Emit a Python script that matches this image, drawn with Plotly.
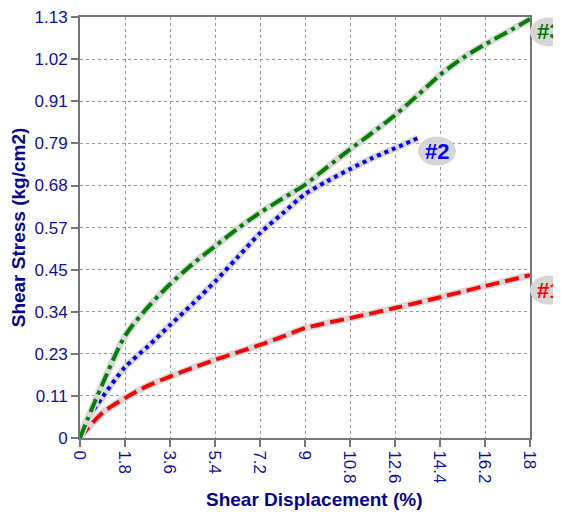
import plotly.graph_objects as go

# shear displacement (%) / shear stress (kg/cm2) for each specimen
x1 = [0, 0.3, 0.9, 1.8, 2.7, 3.6, 4.5, 5.4, 6.3, 7.2, 8.1, 9.0, 10.8, 12.6, 14.4, 16.2, 18.0]
y1 = [0, 0.025, 0.068, 0.107, 0.14, 0.165, 0.188, 0.21, 0.23, 0.25, 0.272, 0.295, 0.322, 0.349, 0.378, 0.408, 0.437]

x2 = [0, 0.3, 0.9, 1.8, 2.7, 3.6, 4.5, 5.4, 6.3, 7.2, 8.1, 9.0, 9.9, 10.8, 11.7, 12.6, 13.5]
y2 = [0, 0.05, 0.11, 0.19, 0.245, 0.303, 0.36, 0.42, 0.485, 0.55, 0.603, 0.655, 0.69, 0.722, 0.752, 0.778, 0.805]

x3 = [0, 0.3, 0.9, 1.8, 2.7, 3.6, 4.5, 5.4, 6.3, 7.2, 8.1, 9.0, 9.9, 10.8, 11.7, 12.6, 13.5, 14.4, 15.3, 16.2, 17.1, 18.0]
y3 = [0, 0.05, 0.145, 0.274, 0.35, 0.413, 0.467, 0.515, 0.562, 0.605, 0.643, 0.68, 0.728, 0.775, 0.82, 0.867, 0.92, 0.975, 1.02, 1.057, 1.09, 1.125]

labels = ["#1", "#2", "#3"]
label_x = [18.76, 14.28, 18.76]
label_y = [0.397, 0.77, 1.09]

x_ticks = [0, 1.8, 3.6, 5.4, 7.2, 9, 10.8, 12.6, 14.4, 16.2, 18]
x_ticktext = ["0", "1.8", "3.6", "5.4", "7.2", "9", "10.8", "12.6", "14.4", "16.2", "18"]
y_ticks = [0, 0.113, 0.226, 0.339, 0.452, 0.565, 0.678, 0.791, 0.904, 1.017, 1.13]
y_ticktext = ["0", "0.11", "0.23", "0.34", "0.45", "0.57", "0.68", "0.79", "0.91", "1.02", "1.13"]

X_MAX, Y_MAX = 18, 1.13
NAVY = "#10109e"
TITLE_NAVY = "#06068e"
series = [
    (x1, y1, "#ff0000", "14px,6px"),
    (x2, y2, "#0000ff", "4px,4px"),
    (x3, y3, "#008000", "14px,5px,4px,5px"),
]

fig = go.Figure()
for xs, ys, col, dash in series:
    # light grey halo behind each curve
    fig.add_trace(go.Scatter(x=xs, y=ys, mode="lines",
                             line=dict(color="#d8d8d8", width=7, shape="spline", smoothing=0.8),
                             hoverinfo="skip", showlegend=False))
    fig.add_trace(go.Scatter(x=xs, y=ys, mode="lines",
                             line=dict(color=col, width=4, dash=dash, shape="spline", smoothing=0.8),
                             showlegend=False))

# grey oval tags at the curve ends (paper refs so they are not clipped)
for lab, lx, ly, (_, _, col, _) in zip(labels, label_x, label_y, series):
    px, py = lx / X_MAX, ly / Y_MAX
    fig.add_shape(type="circle", xref="paper", yref="paper", xsizemode="pixel", ysizemode="pixel",
                  xanchor=px, yanchor=py, x0=-19, x1=19, y0=-14.5, y1=14.5,
                  fillcolor="#d6d6d6", line_width=0, layer="above")
    fig.add_annotation(x=px, y=py, xref="paper", yref="paper", text=f"<b>{lab}</b>",
                       showarrow=False, xanchor="center", yanchor="middle",
                       font=dict(size=22, color=col, family="Liberation Sans"))

axis_common = dict(
    showline=True, linecolor="#777777", linewidth=2, mirror=True,
    ticks="outside", tickcolor="#777777", ticklen=7, tickwidth=2,
    showgrid=True, gridcolor="#999999", gridwidth=1, griddash="dot",
    zeroline=False, automargin=False, ticklabeloverflow="allow",
    tickfont=dict(size=17, color=NAVY, family="Liberation Sans"),
)

fig.update_xaxes(range=[0, X_MAX], tickvals=x_ticks, ticktext=x_ticktext, tickangle=90,
                 **axis_common)
fig.update_yaxes(range=[0, Y_MAX + 0.0005], tickvals=y_ticks, ticktext=y_ticktext,
                 title=dict(text="<b>Shear Stress (kg/cm2)</b>", standoff=6,
                            font=dict(size=19, color=TITLE_NAVY, family="Liberation Sans")),
                 **axis_common)

# x title sits a little right of the plot centre in the original
fig.add_annotation(x=0.52, y=-0.147, xref="paper", yref="paper", showarrow=False,
                   text="<b>Shear Displacement (%)</b>", xanchor="center", yanchor="middle",
                   font=dict(size=19, color=TITLE_NAVY, family="Liberation Sans"))

# page body has an 8px margin, so the figure is a bit smaller than the window
fig.update_layout(
    width=553, height=505,
    margin=dict(l=72, r=31, t=9, b=75),
    plot_bgcolor="white", paper_bgcolor="white",
    font=dict(family="Liberation Sans"),
)

fig.write_html("out.html")
